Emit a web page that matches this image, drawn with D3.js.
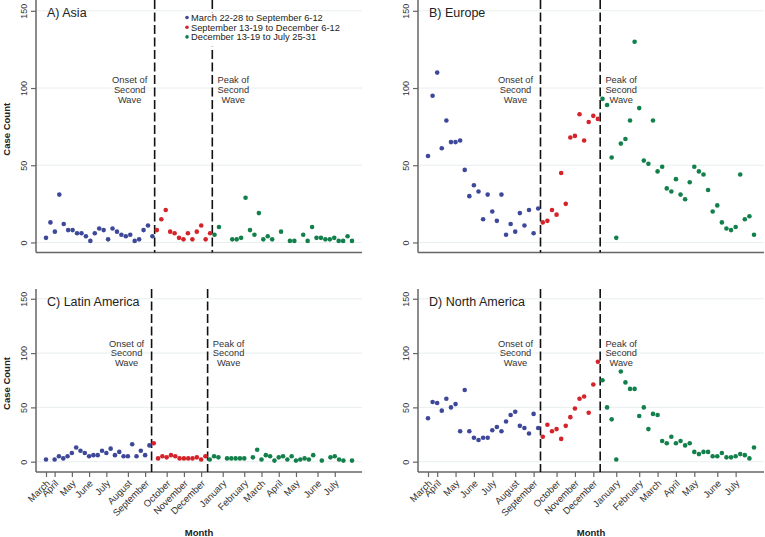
<!DOCTYPE html>
<html><head><meta charset="utf-8">
<script src="https://cdn.jsdelivr.net/npm/d3@7"></script>
<style>body{margin:0;background:#fff} svg{display:block;font-family:"Liberation Sans",Arial,sans-serif}</style>
</head><body><svg id="c" width="765" height="537"></svg>
<script>
// Weekly case counts, week 0 = March 22-28 (2020) ... week 71 = July 25-31 (2021); null = no point
const regionTitles = ["A) Asia", "B) Europe", "C) Latin America", "D) North America"];
const asia = [3,13,7,31,12,8,8,6,6,4,1,6,9,8,2,9,7,5,4,5,1,2,8,11,4,
  8,15,21,7,6,3,2,6,2,7,11,2,6,
  5,10,null,null,2,2,3,29,8,5,19,2,4,2,null,7,null,1,1,null,5,1,10,3,3,2,2,3,1,1,4,1,null,null];
const europe = [56,95,110,61,79,65,65,66,47,30,37,33,15,31,20,14,31,5,12,7,19,11,21,6,22,
  13,14,21,18,45,25,68,69,83,66,78,82,80,
  93,89,55,3,64,67,79,130,87,53,51,79,46,49,35,33,41,31,28,39,49,46,44,34,20,24,13,9,8,10,44,15,17,5];
const latinAmerica = [2,null,2,5,3,5,8,13,10,8,5,6,6,10,8,12,6,9,5,5,16,5,10,6,15,
  17,3,5,4,6,5,3,3,3,3,4,2,5,
  2,5,4,null,3,3,3,3,3,null,4,11,2,6,5,1,4,5,2,5,1,2,3,2,6,null,1,null,4,5,2,1,null,1];
const northAmerica = [40,55,54,47,58,50,53,28,66,28,22,20,22,22,29,32,28,37,43,46,33,31,26,44,31,
  23,34,28,30,21,33,41,49,58,60,45,71,92,
  75,50,39,2,83,73,67,67,42,50,30,44,43,19,17,23,17,19,15,17,9,7,9,9,5,5,8,4,4,5,7,6,3,13];
const periodLabels = ["March 22-28 to September 6-12", "September 13-19 to December 6-12", "December 13-19 to July 25-31"];
const periodStartWeeks = [0, 25, 38];
const periodColors = ["#3d4899", "#d4232a", "#12804a"];
const waveLineWeeks = [24.5, 37.5];
const waveLabels = [["Onset of", "Second", "Wave"], ["Peak of", "Second", "Wave"]];
const monthLabels = ["March","April","May","June","July","August","September","October","November","December","January","February","March","April","May","June","July"];
const monthTickWeeks = [0,2,6,10,14,19,23,28,32,36,41,46,50,54,58,63,67];
const yTickValues = [0, 50, 100, 150];

const seriesList = [asia, europe, latinAmerica, northAmerica];
const layout = [
  {axisX: 36, axisEnd: 362, top: 0, bottom: 252.5, yDom: [-6.5, 157], annot: 103, yTitle: true, legend: true},
  {axisX: 418, axisEnd: 764, top: 0, bottom: 252.5, yDom: [-6.5, 157], annot: 103},
  {axisX: 36, axisEnd: 362, top: 289, bottom: 472, yDom: [-9.5, 159], annot: 106, yTitle: true, months: true},
  {axisX: 418, axisEnd: 764, top: 289, bottom: 472, yDom: [-9.5, 159], annot: 106, months: true}
];

const svg = d3.select("#c");
const axisColor = "#666";
function periodOf(i) { return i >= periodStartWeeks[2] ? 2 : (i >= periodStartWeeks[1] ? 1 : 0); }

seriesList.forEach((vals, p) => {
  const L = layout[p];
  const g = svg.append("g");
  const pts = vals.map((v, i) => ({i, v})).filter(d => d.v !== null);
  const lastIdx = d3.max(pts, d => d.i);
  const x = d3.scaleLinear().domain([0, lastIdx]).range([L.axisX + 10, L.axisEnd - 10]);
  const y = d3.scaleLinear().domain(L.yDom).range([L.bottom, L.top]);

  // gridlines
  g.selectAll(".grid").data(yTickValues).join("line")
    .attr("x1", L.axisX).attr("x2", L.axisEnd)
    .attr("y1", d => y(d)).attr("y2", d => y(d))
    .attr("stroke", "#e9eeee").attr("stroke-width", 1);

  // y axis
  const yAxis = d3.axisLeft(y).tickValues(yTickValues).tickSize(5).tickFormat(d3.format("d"));
  const ya = g.append("g").attr("transform", `translate(${L.axisX},0)`).call(yAxis);
  ya.select(".domain").remove();
  ya.selectAll(".tick line").attr("stroke", axisColor).attr("stroke-width", 1.2);
  ya.selectAll(".tick text").attr("x", null).attr("dy", null).attr("text-anchor", "middle")
    .attr("transform", "translate(-9.5,0) rotate(-90)")
    .attr("font-size", 9).attr("fill", "#333").attr("font-family", "Liberation Sans, Arial, sans-serif");
  g.append("line").attr("x1", L.axisX).attr("x2", L.axisX).attr("y1", L.top).attr("y2", L.bottom)
    .attr("stroke", axisColor).attr("stroke-width", 1.5);

  // x axis
  if (L.months) {
    const xAxis = d3.axisBottom(x).tickValues(monthTickWeeks).tickSize(5).tickFormat((d, k) => monthLabels[k]);
    const xa = g.append("g").attr("transform", `translate(0,${L.bottom})`).call(xAxis);
    xa.select(".domain").remove();
    xa.selectAll(".tick line").attr("stroke", axisColor).attr("stroke-width", 1.2);
    xa.selectAll(".tick text").attr("y", null).attr("dy", null).attr("text-anchor", "end")
      .attr("transform", "translate(4,12) rotate(-45)")
      .attr("font-size", 9.5).attr("fill", "#333").attr("font-family", "Liberation Sans, Arial, sans-serif");
    g.append("text").attr("x", (L.axisX + L.axisEnd) / 2).attr("y", 536)
      .attr("text-anchor", "middle").attr("font-size", 9.5).attr("font-weight", "bold").attr("fill", "#222")
      .text("Month");
  }
  g.append("line").attr("x1", L.axisX).attr("x2", L.axisEnd).attr("y1", L.bottom).attr("y2", L.bottom)
    .attr("stroke", axisColor).attr("stroke-width", 1.5);

  if (L.yTitle) {
    g.append("text").attr("transform", `translate(9.5,${(L.top + L.bottom) / 2 + 3}) rotate(-90)`)
      .attr("text-anchor", "middle").attr("font-size", 9.5).attr("font-weight", "bold").attr("fill", "#222")
      .text("Case Count");
  }

  // wave lines
  g.selectAll(".wave").data(waveLineWeeks).join("line")
    .attr("x1", d => x(d)).attr("x2", d => x(d)).attr("y1", L.top).attr("y2", L.bottom)
    .attr("stroke", "#111").attr("stroke-width", 1.6).attr("stroke-dasharray", "9,3.5");

  // wave annotations
  waveLineWeeks.forEach((w, k) => {
    const cx = k === 0 ? x(w) - 25 : x(w) + 21;
    const t = g.append("text").attr("text-anchor", "middle").attr("font-size", 9.3).attr("fill", "#333");
    waveLabels[k].forEach((s, r) => {
      t.append("tspan").attr("x", cx).attr("y", y(L.annot) + r * 9.6).text(s);
    });
  });

  // legend
  if (L.legend) {
    const lg = g.append("g");
    lg.append("rect").attr("x", 182).attr("y", 12.5).attr("width", 162).attr("height", 34).attr("fill", "#fff");
    periodLabels.forEach((s, k) => {
      const ry = 17.5 + k * 9.7;
      lg.append("circle").attr("cx", 187).attr("cy", ry).attr("r", 1.8).attr("fill", periodColors[k]);
      lg.append("text").attr("x", 191).attr("y", ry + 3.3).attr("font-size", 9.3).attr("fill", "#222").text(s);
    });
  }

  // points
  g.selectAll(".pt").data(pts).join("circle")
    .attr("cx", d => x(d.i)).attr("cy", d => y(d.v)).attr("r", 2.3)
    .attr("fill", d => periodColors[periodOf(d.i)]);

  // title
  g.append("text").attr("x", L.axisX + 11).attr("y", L.top + 16.5)
    .attr("font-size", 12.5).attr("fill", "#222").text(regionTitles[p]);
});
</script>
</body></html>
